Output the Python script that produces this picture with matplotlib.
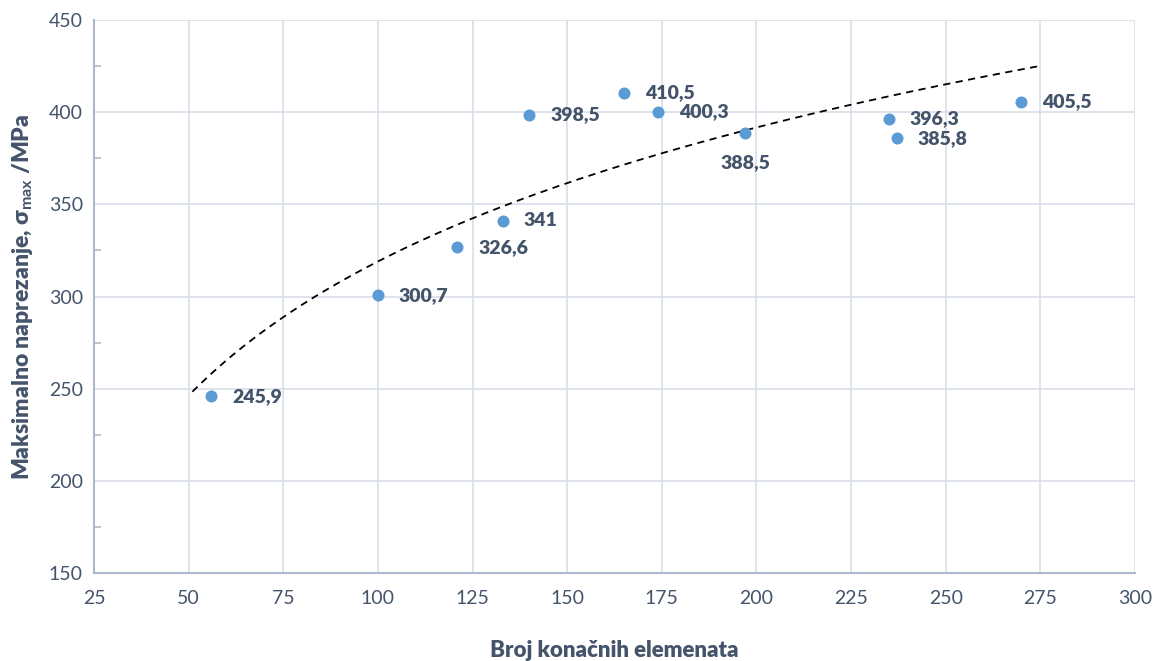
import numpy as np
import matplotlib
matplotlib.use('Agg')
import matplotlib.pyplot as plt
from matplotlib.ticker import MultipleLocator

plt.rcParams['font.family'] = ['Lato', 'DejaVu Sans']
plt.rcParams['mathtext.fontset'] = 'custom'
plt.rcParams['mathtext.rm'] = 'Lato:bold'

# podaci
broj_elemenata = [56, 100, 121, 133, 140, 165, 174, 197, 235, 237, 270]
naprezanje = [245.9, 300.7, 326.6, 341, 398.5, 410.5, 400.3, 388.5, 396.3, 385.8, 405.5]
oznake = ['245,9', '300,7', '326,6', '341', '398,5', '410,5', '400,3', '388,5', '396,3', '385,8', '405,5']

txt_col = '#44546A'
fig = plt.figure(figsize=(11.59, 6.61), dpi=100)
ax = fig.add_axes([0.0811, 0.1331, 0.8982, 0.8366])

# logaritamski trend (kao u Excelu), produžen 5 jedinica na obje strane
a, b = np.polyfit(np.log(broj_elemenata), naprezanje, 1)
xt = np.linspace(min(broj_elemenata) - 5, max(broj_elemenata) + 5, 200)
ax.plot(xt, a * np.log(xt) + b, color='black', lw=1.3, ls=(0, (4, 3)), zorder=2)

ax.scatter(broj_elemenata, naprezanje, s=75, color='#5B9BD5', zorder=3, linewidths=0)

for x, y, t in zip(broj_elemenata, naprezanje, oznake):
    if t == '388,5':
        ax.annotate(t, (x, y), xytext=(0, -15), textcoords='offset points', ha='center', va='top',
                    fontsize=14, fontweight='heavy', color=txt_col)
    else:
        ax.annotate(t, (x, y), xytext=(15, 0), textcoords='offset points', ha='left', va='center',
                    fontsize=14, fontweight='heavy', color=txt_col)

ax.set_xlim(25, 300)
ax.set_ylim(150, 450)
ax.xaxis.set_major_locator(MultipleLocator(25))
ax.yaxis.set_major_locator(MultipleLocator(50))
ax.yaxis.set_minor_locator(MultipleLocator(25))
ax.grid(True, which='major', color='#D9DEE7', lw=1.2)
ax.set_axisbelow(True)
for s in ['top', 'right']:
    ax.spines[s].set_visible(False)
for s in ['left', 'bottom']:
    ax.spines[s].set_color('#ADB9CA')
    ax.spines[s].set_linewidth(1.5)
ax.tick_params(axis='both', which='major', length=0, labelsize=14, labelcolor=txt_col, pad=12)
ax.tick_params(axis='y', which='minor', direction='in', length=5, color='#ADB9CA', width=1.2)
ax.tick_params(axis='y', which='major', pad=8)

ax.set_xlabel('Broj konačnih elemenata', fontsize=16, fontweight='heavy', color=txt_col, labelpad=24)
ax.set_ylabel(r'Maksimalno naprezanje, σ$_{\mathrm{max}}$ /MPa', fontsize=16.5, fontweight='heavy',
              color=txt_col, labelpad=10)

fig.savefig('out.png', dpi=100)
